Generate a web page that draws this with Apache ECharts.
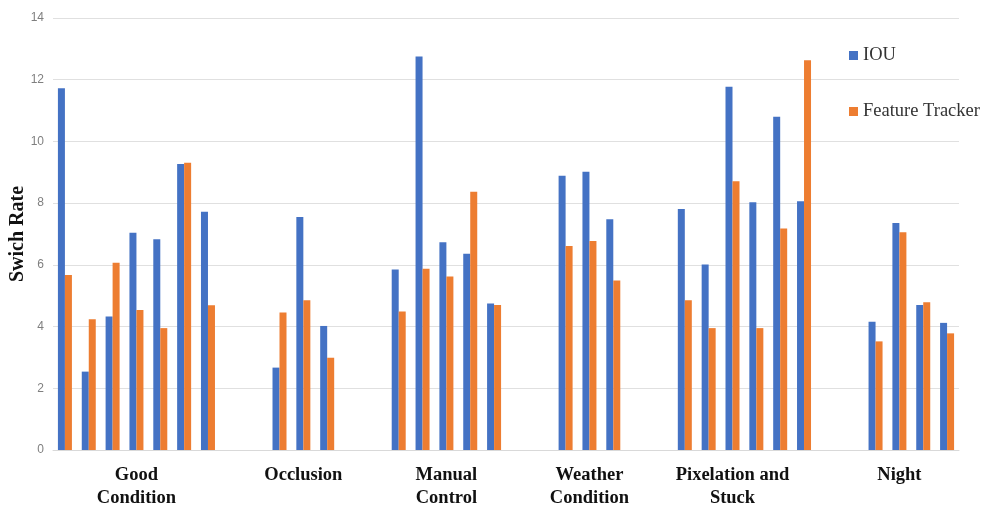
<!DOCTYPE html>
<html>
<head>
<meta charset="utf-8">
<script src="https://cdn.jsdelivr.net/npm/echarts@6/dist/echarts.min.js"></script>
<style>html,body{margin:0;padding:0;background:#fff}#c{width:981px;height:507px}</style>
</head>
<body>
<div id="c"></div>
<script>
// Group names (as shown under the axis)
const groupNames = ['Good\nCondition', 'Occlusion', 'Manual\nControl', 'Weather\nCondition', 'Pixelation and\nStuck', 'Night'];
// Slot index (of 38 category slots) where each group's first pair sits
const groupStart = [0, 9, 14, 21, 26, 34];
// Slot index where each group's label is centred
const labelSlot = [3, 10, 16, 22, 28, 35];
const totalSlots = 38;

// IOU values per group
const iouGood = [11.72, 2.54, 4.33, 7.04, 6.83, 9.27, 7.72];
const iouOcclusion = [2.67, 7.55, 4.02];
const iouManual = [5.85, 12.75, 6.73, 6.36, 4.75];
const iouWeather = [8.89, 9.02, 7.48];
const iouPixel = [7.81, 6.01, 11.77, 8.03, 10.80, 8.06];
const iouNight = [4.16, 7.36, 4.70, 4.12];

// Feature Tracker values per group
const ftGood = [5.67, 4.24, 6.07, 4.54, 3.95, 9.31, 4.69];
const ftOcclusion = [4.46, 4.85, 2.99];
const ftManual = [4.49, 5.87, 5.62, 8.37, 4.70];
const ftWeather = [6.61, 6.77, 5.49];
const ftPixel = [4.85, 3.95, 8.71, 3.95, 7.18, 12.63];
const ftNight = [3.52, 7.06, 4.79, 3.78];

const yTicks = [0, 2, 4, 6, 8, 10, 12, 14];

const iouGroups = [iouGood, iouOcclusion, iouManual, iouWeather, iouPixel, iouNight];
const ftGroups = [ftGood, ftOcclusion, ftManual, ftWeather, ftPixel, ftNight];

const categories = [];
const iouData = [];
const ftData = [];
for (let i = 0; i < totalSlots; i++) { categories.push(''); iouData.push(null); ftData.push(null); }
groupNames.forEach((n, g) => { categories[labelSlot[g]] = n; });
iouGroups.forEach((arr, g) => arr.forEach((v, k) => { iouData[groupStart[g] + k] = v; }));
ftGroups.forEach((arr, g) => arr.forEach((v, k) => { ftData[groupStart[g] + k] = v; }));

const chart = echarts.init(document.getElementById('c'), null, {renderer: 'canvas'});
chart.setOption({
  animation: false,
  backgroundColor: '#ffffff',
  grid: {left: 53, right: 22, top: 18, bottom: 57, containLabel: false, outerBoundsMode: 'none'},
  legend: {
    orient: 'vertical',
    left: 849,
    top: 46,
    padding: 0,
    itemGap: 37,
    itemWidth: 9,
    itemHeight: 9,
    icon: 'rect',
    textStyle: {fontFamily: 'Liberation Serif', fontSize: 18.5, color: '#333333'},
    data: ['IOU', 'Feature Tracker']
  },
  xAxis: {
    type: 'category',
    data: categories,
    boundaryGap: true,
    axisLine: {show: true, lineStyle: {color: '#d9d9d9', width: 1}},
    axisTick: {show: false},
    axisLabel: {
      interval: 0,
      margin: 14,
      fontFamily: 'Liberation Serif',
      fontWeight: 'bold',
      fontSize: 18.5,
      lineHeight: 23,
      color: '#111111'
    },
    splitLine: {show: false}
  },
  yAxis: {
    type: 'value',
    min: yTicks[0],
    max: yTicks[yTicks.length - 1],
    interval: 2,
    name: 'Swich Rate',
    nameLocation: 'middle',
    nameGap: 25,
    nameMoveOverlap: false,
    nameRotate: 90,
    nameTextStyle: {fontFamily: 'Liberation Serif', fontWeight: 'bold', fontSize: 20, color: '#111111'},
    axisLine: {show: false},
    axisTick: {show: false},
    axisLabel: {fontFamily: 'Liberation Sans', fontSize: 12, color: '#7f7f7f', margin: 9},
    splitLine: {lineStyle: {color: '#e0e0e0', width: 1}}
  },
  series: [
    {name: 'IOU', type: 'bar', data: iouData, barWidth: 7, barGap: '0%', itemStyle: {color: '#4472C4'}},
    {name: 'Feature Tracker', type: 'bar', data: ftData, barWidth: 7, barGap: '0%', itemStyle: {color: '#ED7D31'}}
  ]
});
</script>
</body>
</html>
